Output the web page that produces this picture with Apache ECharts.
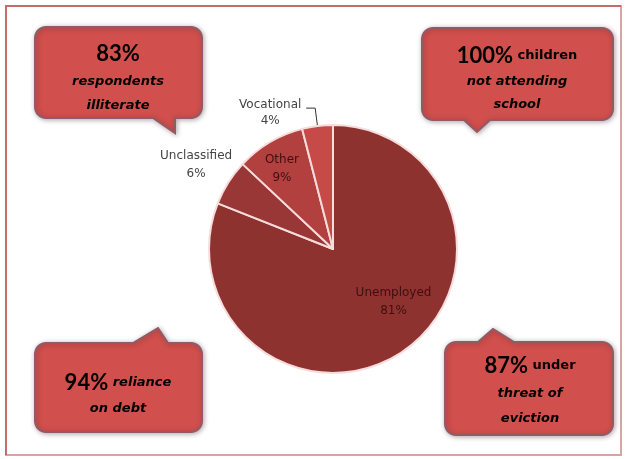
<!DOCTYPE html>
<html>
<head>
<meta charset="utf-8">
<script src="https://cdn.jsdelivr.net/npm/echarts@6/dist/echarts.min.js"></script>
<style>
html,body{margin:0;padding:0;background:#fff;}
#chart{width:627px;height:459px;}
</style>
</head>
<body>
<div id="chart"></div>
<script>
// ---- data ----
const categories = ['Unemployed', 'Unclassified', 'Other', 'Vocational'];
const values = [81, 6, 9, 4];
const sliceColors = ['#8e3230', '#983735', '#b2403e', '#c54a48'];

// callout texts (rich-text lines)
const calloutTL = ['{big|83%}', '{it|respondents}', '{it|illiterate}'];
const calloutTR = ['{big|100%}{sm| children}', '{it|not attending}', '{it|school}'];
const calloutBL = ['{big|94%}{it| reliance}', '{it|on debt}'];
const calloutBR = ['{big|87%}{sm| under}', '{it|threat of}', '{it|eviction}'];

// ---- helpers for callout shapes ----
function arc(pts, cx, cy, r, a0, a1) {
  const n = 8;
  for (let i = 0; i <= n; i++) {
    const a = (a0 + (a1 - a0) * i / n) * Math.PI / 180;
    pts.push([cx + r * Math.cos(a), cy + r * Math.sin(a)]);
  }
}
function bubble(x0, y0, x1, y1, r, tail) {
  const p = [];
  p.push([x0 + r, y0]);
  if (tail.side === 'top') { p.push([tail.a, y0], [tail.tx, tail.ty], [tail.b, y0]); }
  p.push([x1 - r, y0]);
  arc(p, x1 - r, y0 + r, r, -90, 0);
  arc(p, x1 - r, y1 - r, r, 0, 90);
  if (tail.side === 'bottom') { p.push([tail.b, y1], [tail.tx, tail.ty], [tail.a, y1]); }
  arc(p, x0 + r, y1 - r, r, 90, 180);
  arc(p, x0 + r, y0 + r, r, 180, 270);
  return p;
}
const boxStyle = {
  fill: '#d14f4c', stroke: '#8f5b66', lineWidth: 2,
  shadowBlur: 5, shadowColor: 'rgba(60,30,40,0.35)', shadowOffsetX: 1, shadowOffsetY: 1
};
const txtColor = '#2c0607';
const rich = {
  big: { fontSize: 22, fontWeight: 'bold', fontFamily: 'Lato', color: txtColor },
  it: { fontSize: 13, fontWeight: 'bold', fontStyle: 'italic', fontFamily: 'DejaVu Sans', color: txtColor },
  sm: { fontSize: 13, fontWeight: 'bold', fontFamily: 'DejaVu Sans', color: txtColor }
};
function textLines(lines, cx, ys) {
  return lines.map((t, i) => ({
    type: 'text', x: cx, y: ys[i], z: 20,
    style: { text: t, align: 'center', verticalAlign: 'middle', rich: rich }
  }));
}

const graphics = [
  // frame
  { type: 'rect', shape: { x: 6, y: 6, width: 615, height: 449 }, style: { fill: 'none', stroke: '#d9a3a3', lineWidth: 2 }, z: 1 },
  { type: 'polyline', shape: { points: [[6, 455], [6, 6], [621, 6]] }, style: { stroke: '#c46c6c', lineWidth: 2 }, z: 2 },
  { type: 'polygon', z: 10, shape: { points: bubble(35, 27, 202, 118, 11, { side: 'bottom', a: 153, b: 175, tx: 175, ty: 133 }) }, style: boxStyle },
  { type: 'polygon', z: 10, shape: { points: bubble(422, 28, 613, 120, 11, { side: 'bottom', a: 464, b: 490, tx: 477, ty: 132 }) }, style: boxStyle },
  { type: 'polygon', z: 10, shape: { points: bubble(35, 343, 202, 432, 11, { side: 'top', a: 133, b: 168, tx: 158, ty: 328 }) }, style: boxStyle },
  { type: 'polygon', z: 10, shape: { points: bubble(445, 342, 613, 435, 11, { side: 'top', a: 478, b: 514, tx: 493, ty: 329 }) }, style: boxStyle }
].concat(
  textLines(calloutTL, 118, [54, 82, 106]),
  textLines(calloutTR, 517, [56, 82, 105]),
  textLines(calloutBL, 118, [383, 409]),
  textLines(calloutBR, 530, [366, 394, 419])
);

// label offsets from the library's default label position
const labelShift = [[24, -1], [-82, -49], [-18, -24], [0, 5]];

const pieData = categories.map((name, i) => {
  const item = { name: name, value: values[i], itemStyle: { color: sliceColors[i] } };
  if (i === 3) {
    item.label = {
      position: 'outside', color: '#444',
      formatter: '{n|{b}}\n{p|{c}%}',
      rich: {
        n: { fontSize: 12, color: '#444', width: 66, align: 'center', fontFamily: 'DejaVu Sans', lineHeight: 16 },
        p: { fontSize: 12, color: '#444', width: 66, align: 'center', fontFamily: 'DejaVu Sans', lineHeight: 16 }
      }
    };
    item.labelLine = { show: true, length: 18, length2: 9, lineStyle: { color: '#333', width: 1 } };
  } else if (i === 1) {
    item.label = { color: '#444' };
  }
  return item;
});

const option = {
  backgroundColor: '#ffffff',
  animation: false,
  graphic: graphics,
  series: [{
    type: 'pie',
    center: [333, 249],
    radius: 124,
    startAngle: 90,
    clockwise: true,
    avoidLabelOverlap: false,
    itemStyle: { borderColor: '#f7dcdc', borderWidth: 2 },
    label: {
      show: true, position: 'inside', formatter: '{b}\n{c}%',
      fontSize: 12, fontFamily: 'DejaVu Sans', color: '#3e0f10', lineHeight: 18,
      distanceToLabelLine: 3
    },
    labelLine: { show: false },
    labelLayout: function (p) {
      const s = labelShift[p.dataIndex];
      return { dx: s[0], dy: s[1] };
    },
    data: pieData
  }]
};

const chart = echarts.init(document.getElementById('chart'), null, { renderer: 'canvas' });
chart.setOption(option);
</script>
</body>
</html>
